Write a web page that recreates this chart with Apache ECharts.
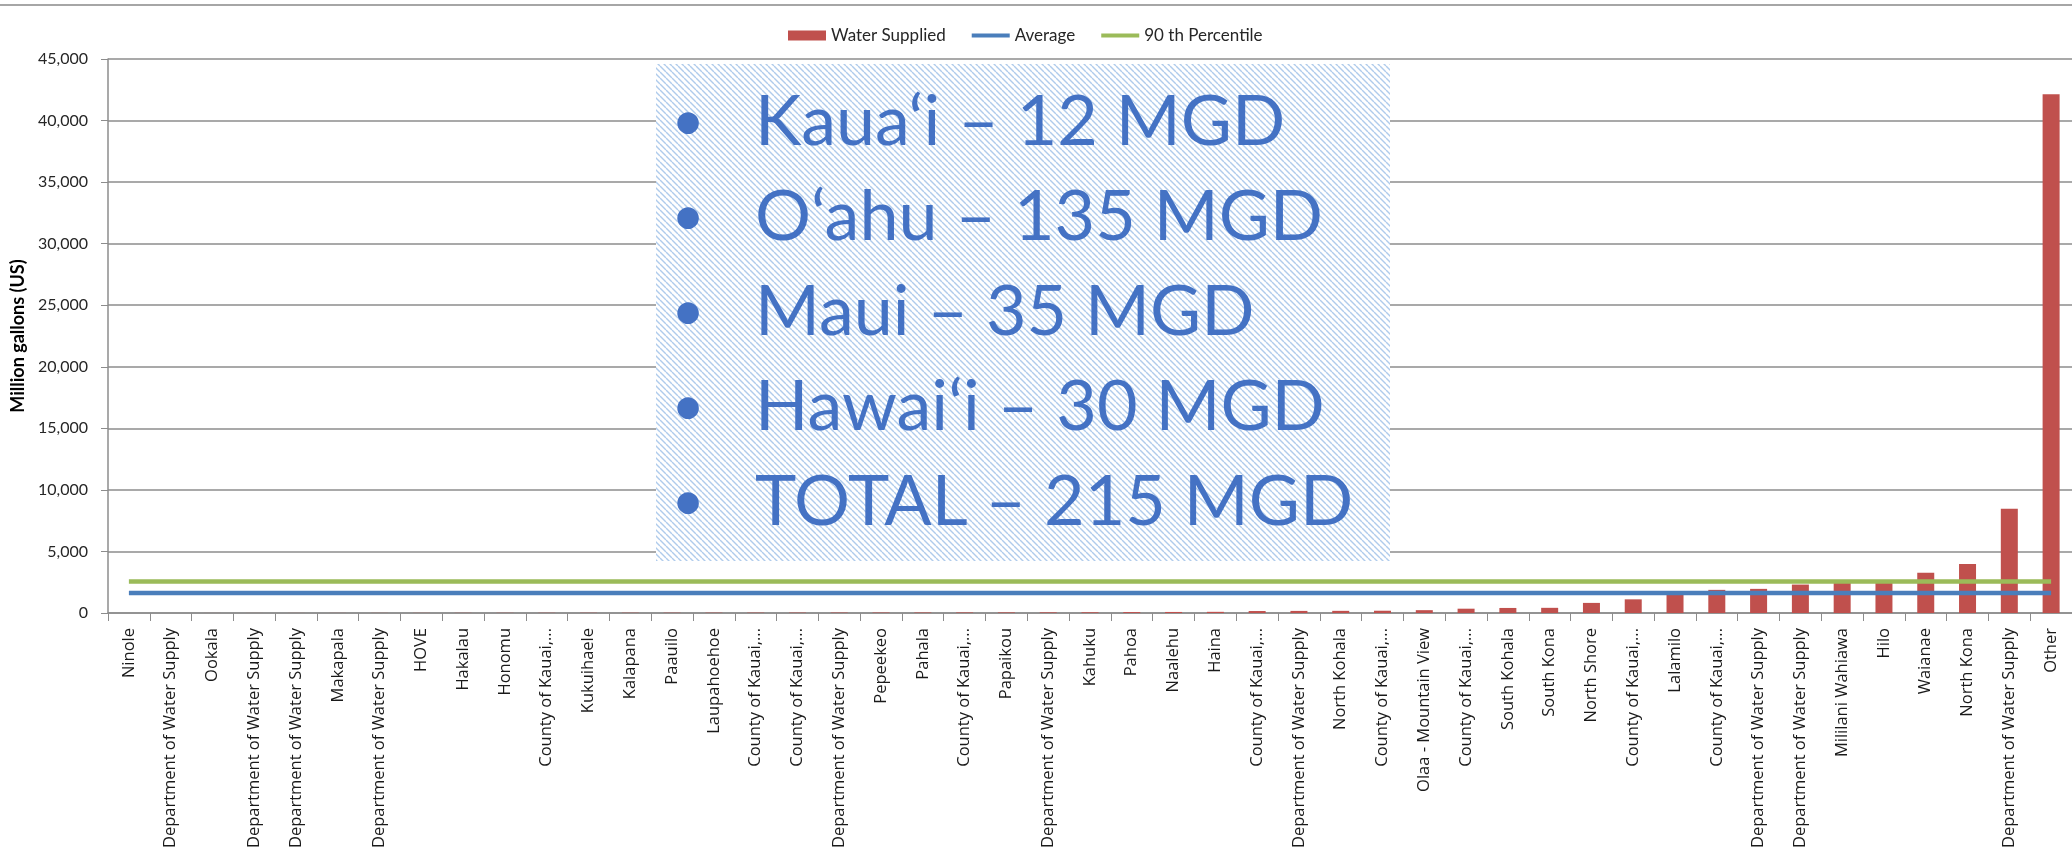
<!DOCTYPE html>
<html>
<head>
<meta charset="utf-8">
<script src="https://cdn.jsdelivr.net/npm/echarts@6/dist/echarts.min.js"></script>
<style>
html, body { margin: 0; padding: 0; background: #fff; }
#chart { width: 2072px; height: 857px; }
</style>
</head>
<body>
<div id="chart"></div>
<script>
// categories (sorted ascending by water supplied)
var categories = [
	'Ninole', 'Department of Water Supply', 'Ookala', 'Department of Water Supply',
	'Department of Water Supply', 'Makapala', 'Department of Water Supply', 'HOVE',
	'Hakalau', 'Honomu', 'County of Kauai,...', 'Kukuihaele', 'Kalapana', 'Paauilo',
	'Laupahoehoe', 'County of Kauai,...', 'County of Kauai,...', 'Department of Water Supply',
	'Pepeekeo', 'Pahala', 'County of Kauai,...', 'Papaikou', 'Department of Water Supply',
	'Kahuku', 'Pahoa', 'Naalehu', 'Haina', 'County of Kauai,...', 'Department of Water Supply',
	'North Kohala', 'County of Kauai,...', 'Olaa - Mountain View', 'County of Kauai,...',
	'South Kohala', 'South Kona', 'North Shore', 'County of Kauai,...', 'Lalamilo',
	'County of Kauai,...', 'Department of Water Supply', 'Department of Water Supply',
	'Mililani Wahiawa', 'Hilo', 'Waianae', 'North Kona', 'Department of Water Supply', 'Other'
];

// million gallons
var waterSupplied = [
	1, 2, 3, 4,
	5, 6, 8, 10,
	12, 14, 16, 18, 20, 22,
	25, 28, 30, 33,
	36, 40, 44, 48, 52,
	58, 75, 85, 95, 160, 170,
	175, 185, 230, 350,
	410, 420, 820, 1110, 1640,
	1880, 1960, 2310,
	2560, 2600, 3270, 3980, 8470, 42130
];

var averageValue = 1620;
var percentile90Value = 2550;

var yMin = 0;
var yMax = 45000;
var yStep = 5000;

var legendNames = ['Water Supplied', 'Average', '90 th Percentile'];

var boxLines = [
	'Kaua\u2018i \u2013 12 MGD',
	'O\u2018ahu \u2013 135 MGD',
	'Maui \u2013 35 MGD',
	'Hawai\u2018i \u2013 30 MGD',
	'TOTAL \u2013 215 MGD'
];

var COLOR = {
	BAR: '#C0504D',
	AVG: '#4A7EBB',
	P90: '#9BBB59',
	AXIS: '#8C8C8C',
	TEXT: '#262626',
	BOX_TEXT: '#4472C4',
	HATCH: '#AFCBEC'
};

// diagonal hatch used behind the text box
function makeHatch() {
	var size = 6;
	var c = document.createElement('canvas');
	c.width = size;
	c.height = size;
	var ctx = c.getContext('2d');
	ctx.fillStyle = '#ffffff';
	ctx.fillRect(0, 0, size, size);
	ctx.strokeStyle = COLOR.HATCH;
	ctx.lineWidth = 1.4;
	[-size, 0, size].forEach(function (off) {
		ctx.beginPath();
		ctx.moveTo(0, off);
		ctx.lineTo(size, size + off);
		ctx.stroke();
	});
	return c;
}

function buildBoxGraphics() {
	var items = [];
	items.push({
		type: 'line',
		z: 100,
		shape: { x1: 0, y1: 5, x2: 2072, y2: 5 },
		style: { stroke: '#A6A6A6', lineWidth: 2 }
	});
	items.push({
		type: 'rect',
		z: 100,
		shape: { x: 656, y: 64, width: 734, height: 497 },
		style: { fill: { type: 'pattern', image: makeHatch(), repeat: 'repeat' } }
	});
	for (var i = 0; i < boxLines.length; i++) {
		var cy = 122 + i * 95;
		items.push({
			type: 'text',
			z: 101,
			x: 688,
			y: cy,
			style: {
				text: '\u2022',
				fill: COLOR.BOX_TEXT,
				font: '58px Lato',
				align: 'center',
				verticalAlign: 'middle'
			}
		});
		items.push({
			type: 'text',
			z: 101,
			x: 755,
			y: cy,
			style: {
				text: boxLines[i],
				fill: COLOR.BOX_TEXT,
				font: '70px Lato',
				align: 'left',
				verticalAlign: 'middle'
			}
		});
	}
	return items;
}

function renderChart() {
	var myChart = echarts.init(document.getElementById('chart'));
	var avgData = categories.map(function () { return averageValue; });
	var p90Data = categories.map(function () { return percentile90Value; });
	var lineIcon = 'path://M0,0H40V4H0Z';

	myChart.setOption({
		animation: false,
		backgroundColor: '#ffffff',
		legend: {
			left: 783,
			top: 22,
			itemWidth: 38,
			itemHeight: 10,
			itemGap: 26,
			textStyle: {
				color: COLOR.TEXT,
				fontFamily: 'Lato',
				fontSize: 17
			},
			data: [
				{ name: legendNames[0], icon: 'rect' },
				{ name: legendNames[1], icon: lineIcon },
				{ name: legendNames[2], icon: lineIcon }
			]
		},
		grid: {
			left: 108,
			right: 0,
			top: 59,
			bottom: 244,
			containLabel: false,
			outerBoundsMode: 'none'
		},
		xAxis: {
			type: 'category',
			data: categories,
			boundaryGap: true,
			axisLine: { show: true, lineStyle: { color: COLOR.AXIS, width: 1.5 } },
			axisTick: { show: true, length: 8, alignWithLabel: false, interval: 0, lineStyle: { color: COLOR.AXIS } },
			axisLabel: {
				interval: 0,
				rotate: 90,
				margin: 15,
				color: '#1a1a1a',
				fontFamily: 'Open Sans',
				fontSize: 16.5
			},
			splitLine: { show: false }
		},
		yAxis: {
			type: 'value',
			min: yMin,
			max: yMax,
			interval: yStep,
			name: 'Million gallons (US)',
			nameLocation: 'middle',
			nameGap: 78,
			nameTextStyle: {
				color: '#000000',
				fontFamily: 'Lato',
				fontWeight: 'bold',
				fontSize: 18
			},
			axisLine: { show: true, lineStyle: { color: COLOR.AXIS, width: 1.5 } },
			axisTick: { show: true, length: 7, lineStyle: { color: COLOR.AXIS } },
			axisLabel: {
				margin: 20,
				color: COLOR.TEXT,
				fontFamily: 'Lato',
				fontSize: 16,
				formatter: function (v) { return v.toLocaleString('en-US'); }
			},
			splitLine: { show: true, lineStyle: { color: COLOR.AXIS, width: 1.5 } }
		},
		series: [{
			name: legendNames[0],
			type: 'bar',
			barWidth: 17,
			itemStyle: { color: COLOR.BAR },
			data: waterSupplied
		}, {
			name: legendNames[1],
			type: 'line',
			symbol: 'none',
			z: 3,
			lineStyle: { color: COLOR.AVG, width: 4.5 },
			itemStyle: { color: COLOR.AVG },
			data: avgData
		}, {
			name: legendNames[2],
			type: 'line',
			symbol: 'none',
			z: 3,
			lineStyle: { color: COLOR.P90, width: 4.5 },
			itemStyle: { color: COLOR.P90 },
			data: p90Data
		}],
		graphic: buildBoxGraphics()
	});
}

renderChart();
</script>
</body>
</html>
